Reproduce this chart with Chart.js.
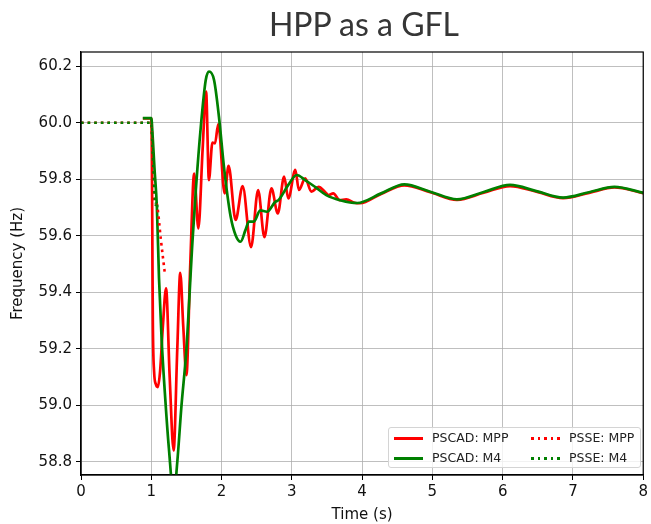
<!DOCTYPE html>
<html>
<head>
<meta charset="utf-8">
<script src="https://cdn.jsdelivr.net/npm/chart.js@4.4.1/dist/chart.umd.min.js"></script>
<style>
    body { margin: 0; background: #fff; }
    #wrap { position: relative; width: 651px; height: 524px; }
    #title { position: absolute; left: 81px; width: 566px; top: 6px; text-align: center; font: 32px/36px Lato, "Open Sans", sans-serif; color: #363636; }
    #legend { position: absolute; left: 388px; top: 427px; width: 253px; height: 41px; box-sizing: border-box; border: 1px solid #d4d4d4; border-radius: 3px; background: rgba(255, 255, 255, 0.8); font: 12.5px "DejaVu Sans", sans-serif; color: #222; }
    .item { position: absolute; height: 14px; line-height: 14px; white-space: nowrap; }
    .swatch { position: absolute; top: 6px; width: 29px; height: 2.6px; }
    .item span { position: absolute; left: 38px; }
</style>
</head>
<body>
<div id="wrap">
    <canvas id="freqChart" width="651" height="524"></canvas>
    <div id="title">HPP as a GFL</div>
    <div id="legend"></div>
</div>
<script>
// axis ticks
const xTicks = [0, 1, 2, 3, 4, 5, 6, 7, 8];
const yTicks = [58.8, 59.0, 59.2, 59.4, 59.6, 59.8, 60.0, 60.2];

// PSCAD, MPP model
const pscadMppTime = [0.88, 1.0, 1.008, 1.015, 1.022, 1.04, 1.065, 1.092, 1.125, 1.165, 1.21, 1.262, 1.318, 1.37, 1.412, 1.455, 1.5, 1.555, 1.61, 1.67, 1.73, 1.78, 1.82, 1.87, 1.907, 1.953, 2.044, 2.1, 2.2, 2.3, 2.42, 2.52, 2.61, 2.71, 2.8, 2.89, 2.95, 3.05, 3.1, 3.19, 3.28, 3.38, 3.47, 3.52, 3.59, 3.68, 3.775, 3.89, 3.97, 4.27, 4.6, 4.97, 5.35, 5.73, 6.105, 6.48, 6.86, 7.23, 7.59, 8.0];
const pscadMppFreq = [60.015, 60.015, 59.9, 59.6, 59.3, 59.12, 59.075, 59.065, 59.12, 59.28, 59.414, 59.1, 58.841, 59.2, 59.469, 59.28, 59.107, 59.5, 59.82, 59.626, 59.903, 60.11, 59.797, 59.93, 59.927, 59.995, 59.75, 59.847, 59.656, 59.776, 59.56, 59.762, 59.595, 59.768, 59.679, 59.809, 59.732, 59.833, 59.762, 59.803, 59.756, 59.773, 59.756, 59.744, 59.75, 59.726, 59.729, 59.717, 59.715, 59.748, 59.778, 59.754, 59.727, 59.752, 59.776, 59.756, 59.733, 59.752, 59.771, 59.751];

// PSCAD, M4 model
const pscadM4Time = [0.88, 1.0, 1.02, 1.045, 1.08, 1.11, 1.148, 1.2, 1.25, 1.32, 1.37, 1.43, 1.5, 1.586, 1.634, 1.705, 1.775, 1.822, 1.893, 1.963, 2.034, 2.13, 2.2, 2.27, 2.34, 2.39, 2.46, 2.55, 2.645, 2.764, 2.81, 2.95, 3.07, 3.19, 3.33, 3.49, 3.7, 3.93, 4.27, 4.6, 4.97, 5.35, 5.73, 6.105, 6.48, 6.86, 7.23, 7.59, 8.0];
const pscadM4Freq = [60.016, 60.016, 59.95, 59.84, 59.7, 59.45, 59.23, 59.02, 58.85, 58.68, 58.8, 59.0, 59.2, 59.58, 59.762, 59.986, 60.151, 60.181, 60.151, 60.021, 59.844, 59.667, 59.602, 59.579, 59.62, 59.65, 59.65, 59.69, 59.685, 59.72, 59.726, 59.78, 59.815, 59.797, 59.773, 59.744, 59.725, 59.716, 59.75, 59.782, 59.756, 59.729, 59.755, 59.78, 59.758, 59.735, 59.754, 59.773, 59.752];

// PSSE, MPP model
const psseMppTime = [0, 1.0, 1.012, 1.027, 1.04, 1.06, 1.088, 1.135, 1.19];
const psseMppFreq = [60.0, 60.0, 59.945, 59.83, 59.735, 59.72, 59.7, 59.59, 59.473];

// PSSE, M4 model
const psseM4Time = [0, 1.0, 1.015, 1.03, 1.045, 1.06, 1.075, 1.09];
const psseM4Freq = [60.0, 60.0, 59.93, 59.84, 59.76, 59.71, 59.72, 59.69];

const RED = '#ff0000';
const GREEN = '#008000';

function toPoints(ts, vs) {
    return ts.map((t, i) => ({ x: t, y: vs[i] }));
}

// square frame round the plot, like a matplotlib axes
const frame = {
    id: 'frame',
    afterDatasetsDraw(chart) {
        const { ctx, chartArea: a } = chart;
        ctx.save();
        ctx.strokeStyle = '#000';
        ctx.lineWidth = 1.2;
        ctx.strokeRect(a.left, a.top, a.right - a.left, a.bottom - a.top);
        ctx.restore();
    }
};

const gridOpts = { color: 'rgba(170, 170, 170, 0.75)', lineWidth: 1, tickLength: 5, tickColor: '#000' };
const tickFont = { family: '"DejaVu Sans", sans-serif', size: 15 };

const freqChart = new Chart(document.getElementById('freqChart'), {
    type: 'line',
    data: {
        datasets: [
            { label: 'PSCAD: MPP', data: toPoints(pscadMppTime, pscadMppFreq), borderColor: RED, borderWidth: 2.7, order: 3 },
            { label: 'PSCAD: M4', data: toPoints(pscadM4Time, pscadM4Freq), borderColor: GREEN, borderWidth: 2.7, order: 2 },
            { label: 'PSSE: MPP', data: toPoints(psseMppTime, psseMppFreq), borderColor: RED, borderWidth: 2.6, borderDash: [2.6, 4], order: 1 },
            { label: 'PSSE: M4', data: toPoints(psseM4Time, psseM4Freq), borderColor: GREEN, borderWidth: 2.6, borderDash: [2.6, 4], order: 0 }
        ]
    },
    options: {
        responsive: false,
        animation: false,
        devicePixelRatio: 1,
        layout: { padding: { top: 52, right: 4, left: 0, bottom: 0 } },
        elements: {
            point: { radius: 0 },
            line: { cubicInterpolationMode: 'monotone', fill: false, borderCapStyle: 'butt', borderJoinStyle: 'round' }
        },
        datasets: { line: { clip: 0 } },
        plugins: { legend: { display: false }, tooltip: { enabled: false }, title: { display: false } },
        scales: {
            x: {
                type: 'linear',
                min: 0,
                max: 8,
                afterBuildTicks: s => { s.ticks = xTicks.map(v => ({ value: v })); },
                afterFit: s => { s.height = 49; },
                ticks: { color: '#111', font: tickFont, padding: 3, maxRotation: 0 },
                grid: gridOpts,
                border: { display: true, color: '#000', width: 1.2 },
                title: { display: true, text: 'Time (s)', color: '#111', font: tickFont, padding: { top: 0, bottom: 0 } }
            },
            y: {
                type: 'linear',
                min: 58.754,
                max: 60.25,
                afterBuildTicks: s => { s.ticks = yTicks.map(v => ({ value: v })); },
                afterFit: s => { s.width = 81; },
                ticks: { color: '#111', font: tickFont, padding: 4, callback: v => v.toFixed(1) },
                grid: gridOpts,
                border: { display: true, color: '#000', width: 1.2 },
                title: { display: true, text: 'Frequency (Hz)', color: '#111', font: tickFont, padding: { top: 9, bottom: 0 } }
            }
        }
    },
    plugins: [frame]
});

// legend in two columns, built from the dataset options
const legendSlots = [[5, 3], [5, 23], [142, 3], [142, 23]];
const legendBox = document.getElementById('legend');
freqChart.data.datasets.forEach((ds, i) => {
    const [left, top] = legendSlots[i];
    const item = document.createElement('div');
    item.className = 'item';
    item.style.left = left + 'px';
    item.style.top = top + 'px';
    const sw = document.createElement('div');
    sw.className = 'swatch';
    sw.style.background = ds.borderDash
        ? `repeating-linear-gradient(to right, ${ds.borderColor} 0 2.6px, transparent 2.6px 6.6px)`
        : ds.borderColor;
    const txt = document.createElement('span');
    txt.textContent = ds.label;
    item.appendChild(sw);
    item.appendChild(txt);
    legendBox.appendChild(item);
});
</script>
</body>
</html>
